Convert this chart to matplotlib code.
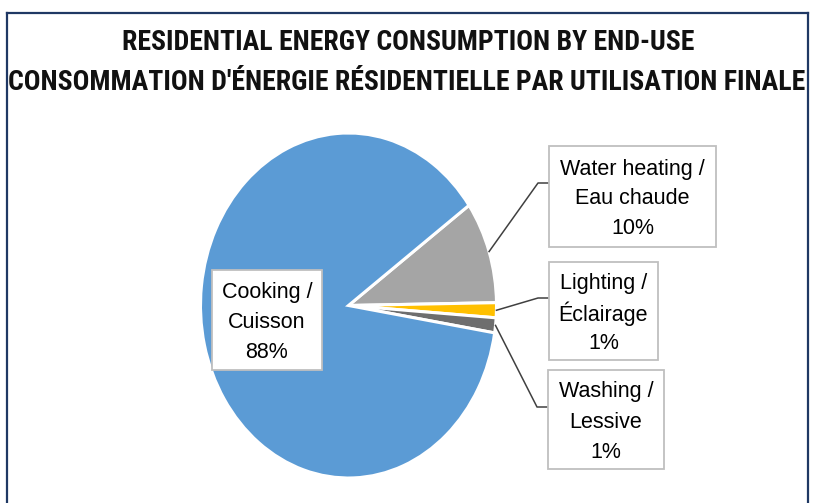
import matplotlib
matplotlib.use("Agg")
import matplotlib.pyplot as plt
import numpy as np
from matplotlib.lines import Line2D
from matplotlib.patches import Rectangle
from matplotlib import font_manager as fm

# ---------------------------------------------------------------- data
labels = [["Water heating /", "Eau chaude"], ["Lighting /", "Éclairage"],
          ["Washing /", "Lessive"], ["Cooking /", "Cuisson"]]
shares = [9.6, 1.4, 1.4, 87.6]          # % of residential energy use
colors = ["#A5A5A5", "#FFC000", "#6E6E6E", "#5B9BD5"]

title1 = "RESIDENTIAL ENERGY CONSUMPTION BY END-USE"
title2 = "CONSOMMATION D'ÉNERGIE RÉSIDENTIELLE PAR UTILISATION FINALE"

# ---------------------------------------------------------------- figure
W, H = 814, 503
fig = plt.figure(figsize=(W / 100, H / 100), dpi=100)
fig.patch.set_facecolor("white")
r = fig.canvas.get_renderer()


def fx(x):
    return x / W


def fy(y):
    return 1 - y / H


# dark blue frame (bottom edge falls outside the picture)
NAVY = "#1F3864"
for xs, ys in [([7, 7], [H + 5, 12.5]), ([7, 808], [12.5, 12.5]),
               ([808, 808], [12.5, H + 5])]:
    fig.add_artist(Line2D([fx(v) for v in xs], [fy(v) for v in ys],
                          color=NAVY, lw=1.6, transform=fig.transFigure))

# ---- title: pick the narrowest installed bold face, fit line 2 to the frame
cands = ["Liberation Sans Narrow", "DejaVu Sans Condensed", "Roboto Condensed",
         "Lato", "Roboto", "Liberation Sans", "Open Sans", "Inter", "DejaVu Sans"]
best, best_w = "DejaVu Sans", None
for fam in cands:
    try:
        fm.findfont(fm.FontProperties(family=fam, weight="bold"),
                    fallback_to_default=False)
    except Exception:
        continue
    t = fig.text(0, 0, title2, fontsize=16, fontweight="bold", family=fam)
    w = t.get_window_extent(r).width
    t.remove()
    if best_w is None or w < best_w:
        best, best_w = fam, w
size = 16 * 797 / best_w
fig.text(fx(408), fy(50), title1, ha="center", va="baseline", fontsize=size,
         fontweight="bold", family=best, color="#111111")
fig.text(fx(406.5), fy(90), title2, ha="center", va="baseline", fontsize=size,
         fontweight="bold", family=best, color="#111111")

# ---- pie (stretched vertically like the original)
cx, cy, rx, ry = 348.5, 305.5, 148, 172.5
ax = fig.add_axes([fx(cx - rx), fy(cy + ry), 2 * rx / W, 2 * ry / H])
wedges, _ = ax.pie(shares, colors=colors, startangle=35.5, counterclock=False,
                   wedgeprops=dict(edgecolor="white", linewidth=2.2))
ax.set_aspect("auto")
ax.set_xlim(-1, 1)
ax.set_ylim(-1, 1)
ax.axis("off")

# ---- data labels: box (left, top, width, height in px), leader elbow
boxes = [(549, 146, 167, 101), (549, 262, 109, 98), (548, 370, 116, 99),
         (212, 270, 110, 100)]
elbows = [(538, 183), (538, 298), (537, 407), None]
PITCH = 30

for w, lab, v, (bl, bt, bw, bh), el in zip(wedges, labels, shares, boxes,
                                           elbows):
    fig.add_artist(Rectangle((fx(bl), fy(bt + bh)), bw / W, bh / H,
                             transform=fig.transFigure, fc="white",
                             ec="#BFBFBF", lw=1.3, zorder=5))
    lx, ly = bl + bw / 2, bt + bh / 2
    for i, line in enumerate(lab + [f"{v:.0f}%"]):
        fig.text(fx(lx), fy(ly + (i - 1) * PITCH), line, ha="center",
                 va="center_baseline", fontsize=15.5, family="Liberation Sans",
                 color="black", zorder=6)
    if el is None:
        continue
    mid = np.deg2rad((w.theta1 + w.theta2) / 2)
    px, py = ax.transData.transform((np.cos(mid), np.sin(mid)))
    fig.add_artist(Line2D([px / W, fx(el[0]), fx(bl)],
                          [py / H, fy(el[1]), fy(el[1])],
                          color="#404040", lw=1.1, transform=fig.transFigure,
                          zorder=4))

fig.savefig("out.png", dpi=100, facecolor="white")
